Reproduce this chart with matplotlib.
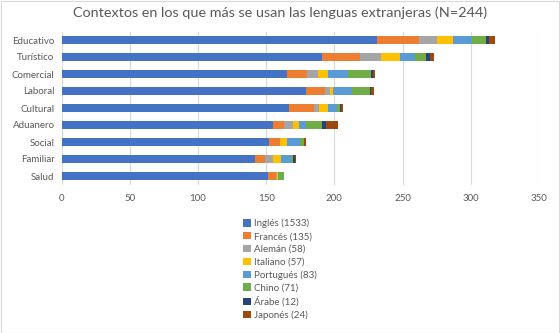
import matplotlib
matplotlib.use("Agg")
import matplotlib.pyplot as plt
import numpy as np
from matplotlib.patches import Rectangle

plt.rcParams['font.family'] = ['Lato', 'DejaVu Sans']

categories = ["Educativo", "Turístico", "Comercial", "Laboral", "Cultural",
              "Aduanero", "Social", "Familiar", "Salud"]
series_names = ["Inglés (1533)", "Francés (135)", "Alemán (58)", "Italiano (57)",
                "Portugués (83)", "Chino (71)", "Árabe (12)", "Japonés (24)"]
ingles    = [231, 191, 165, 179, 167, 155, 152, 142, 151]
frances   = [31, 28, 15, 14, 18, 8, 8, 7, 6]
aleman    = [13, 15, 8, 4, 4, 7, 0, 6, 1]
italiano  = [12, 14, 7, 2, 6, 4, 5, 6, 1]
portugues = [14, 11, 15, 14, 7, 5, 10, 7, 0]
chino     = [10, 8, 17, 13, 2, 12, 3, 2, 4]
arabe     = [2, 3, 1, 1, 1, 3, 0, 1, 0]
japones   = [5, 3, 2, 2, 1, 9, 1, 1, 0]
xticks = [0, 50, 100, 150, 200, 250, 300, 350]

series = [ingles, frances, aleman, italiano, portugues, chino, arabe, japones]
colors = ["#4472C4", "#ED7D31", "#A5A5A5", "#FFC000", "#5B9BD5", "#70AD47",
          "#264478", "#9E480E"]

W, H = 560, 333
fig = plt.figure(figsize=(W / 100, H / 100), dpi=100)
fig.patch.set_facecolor("white")
fig.patches.append(Rectangle((0.5 / W, 0.5 / H), 1 - 1.5 / W, 1 - 1.5 / H,
                             transform=fig.transFigure, fill=False,
                             edgecolor="#d9d9d9", linewidth=0.8))

top_px, bot_px = 31.5, 184.5
left_px, right_px = 61.5, 539.0
ax = fig.add_axes([left_px / W, 1 - bot_px / H, (right_px - left_px) / W,
                   (bot_px - top_px) / H])

y = np.arange(len(categories))
left = np.zeros(len(categories))
handles = []
for vals, col, name in zip(series, colors, series_names):
    b = ax.barh(y, vals, left=left, height=0.42, color=col, label=name, zorder=3)
    handles.append(b)
    left += np.array(vals)

ax.set_xlim(0, 350)
ax.set_ylim(len(categories) - 0.5, -0.5)
ax.set_yticks(y)
ax.set_yticklabels(categories)
ax.set_xticks(xticks)
ax.set_xticklabels([str(t) for t in xticks])
ax.tick_params(axis='both', length=0, labelsize=7, colors="#595959")
ax.tick_params(axis='y', pad=5)
ax.tick_params(axis='x', pad=7)
ax.grid(axis='x', color="#d9d9d9", linewidth=0.8, zorder=0)
for s in ax.spines.values():
    s.set_visible(False)
ax.set_facecolor("white")

fig.text(0.5, 1 - 13 / H, "Contextos en los que más se usan las lenguas extranjeras (N=244)",
         ha="center", va="center", fontsize=10.4, color="#595959")

leg = fig.legend(handles, series_names, loc="upper center",
                 bbox_to_anchor=(0.5, 1 - 214 / H), ncol=1, frameon=False,
                 fontsize=7, handlelength=0.75, handleheight=0.75,
                 handletextpad=0.35, labelspacing=0.38, borderpad=0)
for t in leg.get_texts():
    t.set_color("#595959")

fig.savefig("out.png", dpi=100, facecolor="white")
